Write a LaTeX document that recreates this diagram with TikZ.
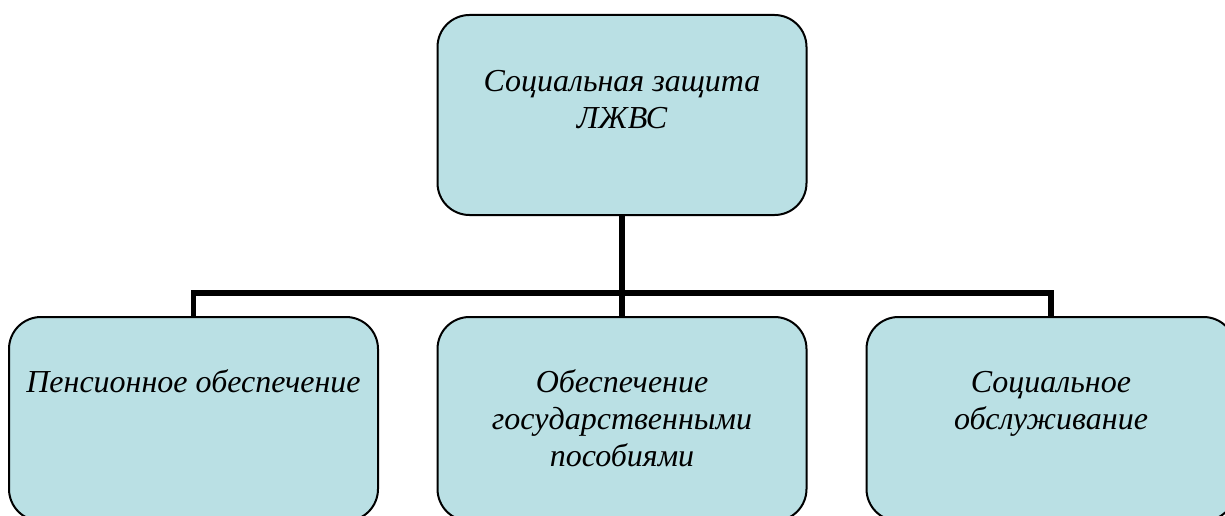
\documentclass[tikz,border=0pt]{standalone}
\usepackage{fontspec}
\setmainfont{Liberation Serif}
\usetikzlibrary{calc,backgrounds}
\definecolor{boxfill}{RGB}{186,224,228}
\tikzset{
  box/.style={draw=black, line width=2pt, fill=boxfill, rounded corners=32pt,
    minimum width=369pt, minimum height=200pt, inner sep=0pt},
  boxtext/.style={anchor=north, align=center, inner sep=0pt,
    font=\fontsize{32}{37}\selectfont\itshape},
  conn/.style={draw=black, line width=5.5pt, line join=miter}
}
\begin{document}
\begin{tikzpicture}[x=1pt,y=-1pt]
\useasboundingbox (0,0) rectangle (1225,516);
\node[box] (top) at (622,115) {};
\node[box, minimum height=204pt] (pen) at (193.5,419) {};
\node[box, minimum height=204pt] (pos) at (622,419) {};
\node[box, minimum height=204pt] (soc) at (1051,419) {};
\node[boxtext] (toptxt) at ($(top.north)+(0,51)$) {\strut Социальная защита\\ЛЖВС};
\node[boxtext] (pentxt) at ($(pen.north)+(0,50)$) {\strut Пенсионное обеспечение};
\node[boxtext] (postxt) at ($(pos.north)+(0,50)$) {\strut Обеспечение\\государственными\\пособиями};
\node[boxtext] (soctxt) at ($(soc.north)+(0,50)$) {\strut Социальное\\обслуживание};
\coordinate (bus) at (622,293);
\begin{scope}[on background layer]
\fill[white] (0,0) rectangle (1225,516);
\draw[conn] (top.south) -- (bus);
\draw[conn] (bus) -- (pos.north);
\draw[conn] (pen.north) -- (pen.north |- bus) -| (soc.north);
\end{scope}
\end{tikzpicture}
\end{document}
